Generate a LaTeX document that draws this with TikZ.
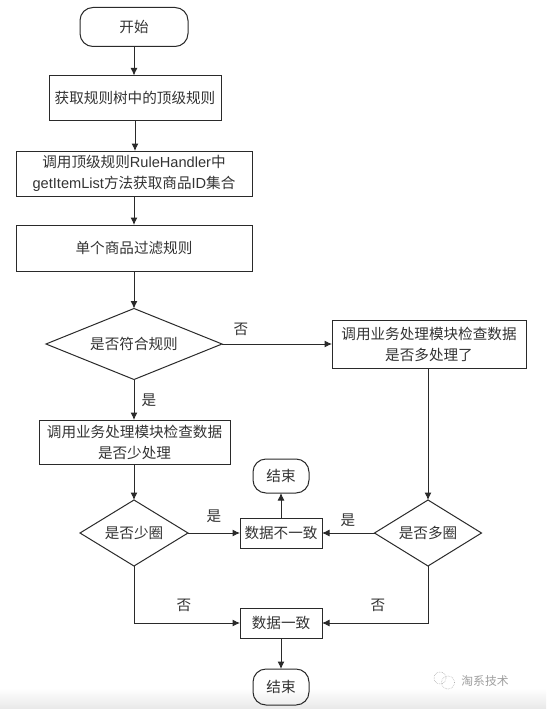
\documentclass[tikz,border=0pt]{standalone}
\usepackage{fontspec}
\setmainfont{Liberation Sans}
\newfontfamily\cjk{Noto Sans CJK SC}
\newcommand{\lat}[1]{{\rmfamily #1}}
\usetikzlibrary{shapes.geometric,arrows.meta,positioning}
\definecolor{ink}{HTML}{2A2A2A}
\definecolor{txt}{HTML}{333333}
\tikzset{
  base/.style={draw=ink,line width=1pt,align=center,text=txt,inner sep=0pt,outer sep=0pt,font=\fontsize{14.6}{21}\selectfont\cjk},
  boxn/.style={base,rectangle,minimum width=#1},
  term/.style={base,rectangle,rounded corners=13pt,minimum width=#1},
  link/.style={draw=ink,line width=1pt,-{Latex[length=7.5pt,width=7pt]}},
  lbl/.style={text=txt,inner sep=0pt,font=\fontsize{14.6}{16}\selectfont\cjk}
}
\begin{document}
\begin{tikzpicture}[x=1pt,y=-1pt]
\useasboundingbox (0,0) rectangle (546,709);
\fill[white] (0,0) rectangle (546,709);
\shade[top color=white,bottom color=black!9] (0,688) rectangle (546,709);
\node[term=108pt,minimum height=39pt] (start) at (134,27) {开始};
\node[boxn=172pt,minimum height=45pt] (top) at (135,98) {获取规则树中的顶级规则};
\node[boxn=236pt,minimum height=45pt] (call) at (134,173.5) {调用顶级规则\lat{RuleHandler}中\\\lat{getItemList}方法获取商品\lat{ID}集合};
\node[boxn=236pt,minimum height=46pt] (single) at (134,248) {单个商品过滤规则};
\node[base,diamond,shape aspect=2.48,minimum width=176pt,minimum height=71pt] (rule) at (134,344) {是否符合规则};
\node[boxn=194pt,minimum height=48pt] (more) at (429,344) {调用业务处理模块检查数据\\是否多处理了};
\node[boxn=191pt,minimum height=44pt] (less) at (134.5,442) {调用业务处理模块检查数据\\是否少处理};
\node[base,diamond,shape aspect=1.64,minimum width=108pt,minimum height=66pt] (dless) at (134,533) {是否少圈};
\node[boxn=82pt,minimum height=30pt] (bad) at (281,533) {数据不一致};
\node[term=56pt,minimum height=34pt] (end1) at (281,476) {结束};
\node[base,diamond,shape aspect=1.62,minimum width=107pt,minimum height=66pt] (dmore) at (428,533) {是否多圈};
\node[boxn=82pt,minimum height=30pt] (good) at (281,623) {数据一致};
\node[term=56pt,minimum height=36pt] (end2) at (281,687) {结束};
\draw[link] (start) -- (start|-top.north);
\draw[link] (top) -- (top|-call.north);
\draw[link] (call) -- (call|-single.north);
\draw[link] (single) -- (rule);
\draw[link] (rule) -- (more);
\draw[link] (rule) -- (less.north-|rule);
\draw[link] (less.south-|dless) -- (dless);
\draw[link] (more.south-|dmore) -- (dmore);
\draw[link] (dless) -- (bad);
\draw[link] (dmore) -- (bad);
\draw[link] (bad) -- (end1);
\draw[link] (dless) |- (good);
\draw[link] (dmore) |- (good);
\draw[link] (good) -- (end2);
\node[lbl] (l1) at (241,329) {否};
\node[lbl] (l2) at (149,400) {是};
\node[lbl] (l3) at (214,516) {是};
\node[lbl] (l4) at (348,520) {是};
\node[lbl] (l5) at (184,605) {否};
\node[lbl] (l6) at (378,605) {否};
\draw[gray!60,line width=0.6pt,densely dotted] (440,678) circle (6pt);
\draw[gray!60,line width=0.6pt,densely dotted] (448,682.5) circle (6.5pt);
\node[text=gray!75,inner sep=0pt,font=\fontsize{11.8}{13}\selectfont\cjk] (mark) at (485,681) {淘系技术};
\end{tikzpicture}
\end{document}
